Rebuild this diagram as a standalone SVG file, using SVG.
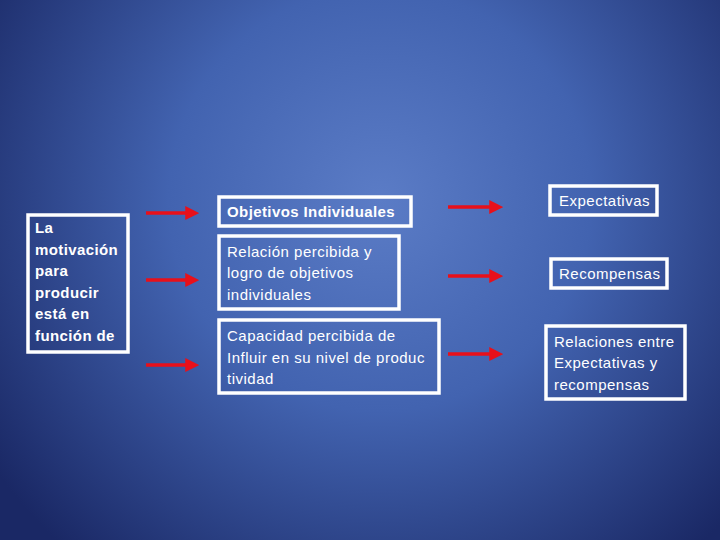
<svg xmlns="http://www.w3.org/2000/svg" width="720" height="540" viewBox="0 0 720 540">
<defs>
<radialGradient id="bg" cx="380" cy="200" r="470" gradientUnits="userSpaceOnUse">
<stop offset="0" stop-color="#5b7cc6"/>
<stop offset="0.45" stop-color="#4263b0"/>
<stop offset="1" stop-color="#1a2865"/>
</radialGradient>
<marker id="ah" markerWidth="4" markerHeight="4" refX="0.5" refY="2" orient="auto" markerUnits="strokeWidth">
<path d="M0,0 L4,2 L0,4 Z" fill="#e8101a"/>
</marker>
<style>
.box{fill:none;stroke:#ffffff;stroke-width:3.5}
.t{font-family:"Liberation Sans",Arial,sans-serif;font-size:15px;fill:#ffffff;letter-spacing:0.5px}
.b{font-weight:bold;letter-spacing:0.4px}
.arr{stroke:#e8101a;stroke-width:3.5;fill:none;marker-end:url(#ah)}
</style>
</defs>
<rect width="720" height="540" fill="url(#bg)"/>
<g id="n-motivacion">
<rect class="box" x="28" y="215" width="100" height="137"/>
<text class="t b" x="35" y="233">La</text>
<text class="t b" x="35" y="255">motivación</text>
<text class="t b" x="35" y="276">para</text>
<text class="t b" x="35" y="298">producir</text>
<text class="t b" x="35" y="319">está en</text>
<text class="t b" x="35" y="341">función de</text>
</g>
<g id="n-objetivos">
<rect class="box" x="219" y="197" width="192" height="29"/>
<text class="t b" x="227" y="217">Objetivos Individuales</text>
</g>
<g id="n-relacion">
<rect class="box" x="219" y="236" width="180" height="73"/>
<text class="t" x="227" y="257">Relación percibida y</text>
<text class="t" x="227" y="278">logro de objetivos</text>
<text class="t" x="227" y="300">individuales</text>
</g>
<g id="n-capacidad">
<rect class="box" x="219" y="320" width="220" height="73"/>
<text class="t" x="227" y="341">Capacidad percibida de</text>
<text class="t" x="227" y="363">Influir en su nivel de produc</text>
<text class="t" x="227" y="384">tividad</text>
</g>
<g id="n-expectativas">
<rect class="box" x="550" y="186" width="107" height="29"/>
<text class="t" x="559" y="206">Expectativas</text>
</g>
<g id="n-recompensas">
<rect class="box" x="551" y="259" width="116" height="29"/>
<text class="t" x="559" y="279">Recompensas</text>
</g>
<g id="n-relaciones">
<rect class="box" x="546" y="326" width="139" height="73"/>
<text class="t" x="554" y="347">Relaciones entre</text>
<text class="t" x="554" y="368">Expectativas y</text>
<text class="t" x="554" y="390">recompensas</text>
</g>
<g id="connectors">
<line class="arr" x1="146" y1="213" x2="187" y2="213"/>
<line class="arr" x1="146" y1="280" x2="187" y2="280"/>
<line class="arr" x1="146" y1="365" x2="187" y2="365"/>
<line class="arr" x1="448" y1="207" x2="491" y2="207"/>
<line class="arr" x1="448" y1="276" x2="491" y2="276"/>
<line class="arr" x1="448" y1="354" x2="491" y2="354"/>
</g>
</svg>
